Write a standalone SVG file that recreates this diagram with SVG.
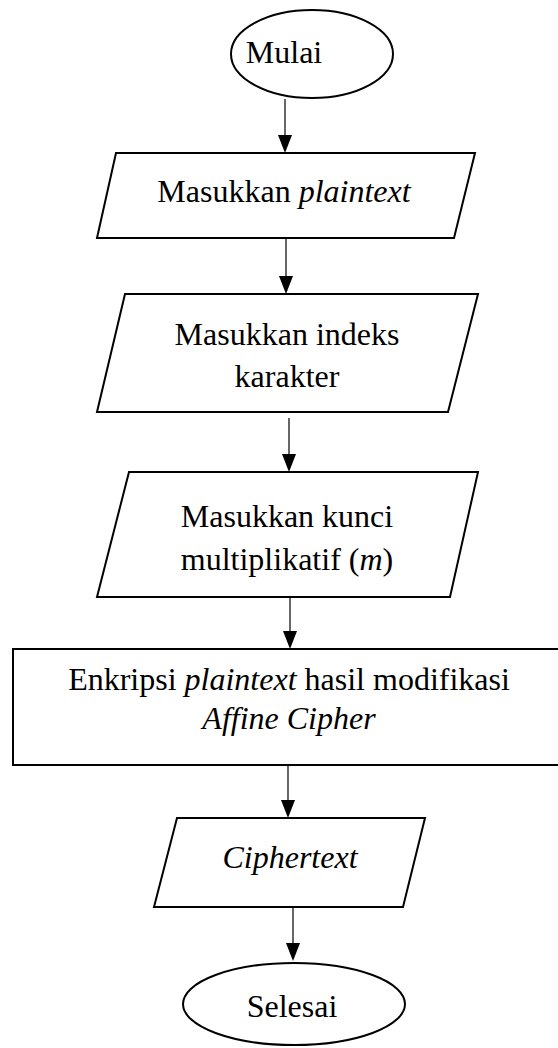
<svg xmlns="http://www.w3.org/2000/svg" width="558" height="1048" viewBox="0 0 558 1048">
<style>
.s{fill:#fff;stroke:#000;stroke-width:2}
.t{font-family:'Liberation Serif','DejaVu Serif',serif;font-size:32px;fill:#000;text-anchor:middle}
.i{font-style:italic}
.ln{stroke:#000;stroke-width:1.2}
</style>
<rect width="558" height="1048" fill="#fff"/>
<g id="connectors">
<line class="ln" x1="285" y1="99" x2="285" y2="138"/>
<polygon points="278,135 292,135 285,153"/>
<line class="ln" x1="286" y1="239" x2="286" y2="279"/>
<polygon points="279,276 293,276 286,294"/>
<line class="ln" x1="289" y1="418" x2="289" y2="457"/>
<polygon points="282,454 296,454 289,472"/>
<line class="ln" x1="290" y1="598" x2="290" y2="634"/>
<polygon points="283,631 297,631 290,649"/>
<line class="ln" x1="288" y1="766" x2="288" y2="803"/>
<polygon points="281,800 295,800 288,818"/>
<line class="ln" x1="293" y1="908" x2="293" y2="946"/>
<polygon points="286,943 300,943 293,961"/>
</g>
<g id="mulai">
<ellipse class="s" cx="312" cy="54" rx="81" ry="44"/>
<text class="t" x="284" y="63">Mulai</text>
</g>
<g id="input-plaintext">
<polygon class="s" points="116,153 475,153 454,238 97,238"/>
<text class="t" x="284" y="202">Masukkan <tspan class="i">plaintext</tspan></text>
</g>
<g id="input-indeks">
<polygon class="s" points="125,294 478,294 448,412 97,412"/>
<text class="t" x="287" y="345">Masukkan indeks</text>
<text class="t" x="287" y="387">karakter</text>
</g>
<g id="input-kunci">
<polygon class="s" points="129,472 478,472 450,597 97,597"/>
<text class="t" x="287" y="527">Masukkan kunci</text>
<text class="t" x="287" y="570">multiplikatif (<tspan class="i">m</tspan>)</text>
</g>
<g id="enkripsi">
<rect class="s" x="13" y="649" width="552" height="116"/>
<text class="t" x="289" y="690">Enkripsi <tspan class="i">plaintext</tspan> hasil modifikasi</text>
<text class="t i" x="289" y="729">Affine Cipher</text>
</g>
<g id="ciphertext">
<polygon class="s" points="177,818 425,818 403,907 154,907"/>
<text class="t i" x="290" y="868">Ciphertext</text>
</g>
<g id="selesai">
<ellipse class="s" cx="294" cy="1004" rx="111" ry="41"/>
<text class="t" x="292" y="1017">Selesai</text>
</g>
</svg>
